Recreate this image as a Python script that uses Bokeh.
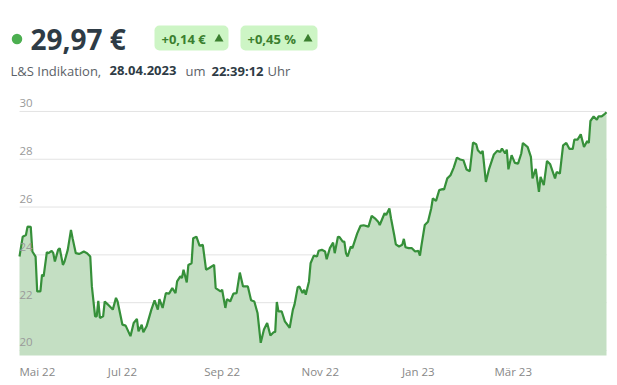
import pandas as pd
from bokeh.plotting import figure
from bokeh.models import ColumnDataSource, Range1d
from bokeh.core.properties import value
from bokeh.embed import file_html
from bokeh.resources import INLINE

# ---------------- data ----------------
dates = [
    "2022-04-28", "2022-04-30", "2022-05-02", "2022-05-03", "2022-05-05", "2022-05-06", "2022-05-08",
    "2022-05-09", "2022-05-11", "2022-05-12", "2022-05-13", "2022-05-15", "2022-05-16", "2022-05-18",
    "2022-05-19", "2022-05-20", "2022-05-22", "2022-05-23", "2022-05-25", "2022-05-26", "2022-05-28",
    "2022-05-30", "2022-05-31", "2022-06-02", "2022-06-04", "2022-06-05", "2022-06-07", "2022-06-09",
    "2022-06-11", "2022-06-12", "2022-06-14", "2022-06-15", "2022-06-16", "2022-06-17", "2022-06-19",
    "2022-06-20", "2022-06-22", "2022-06-25", "2022-06-27", "2022-06-28", "2022-07-01", "2022-07-03",
    "2022-07-06", "2022-07-08", "2022-07-10", "2022-07-11", "2022-07-13", "2022-07-14", "2022-07-16",
    "2022-07-19", "2022-07-21", "2022-07-23", "2022-07-24", "2022-07-26", "2022-07-28", "2022-07-30",
    "2022-08-01", "2022-08-03", "2022-08-04", "2022-08-06", "2022-08-07", "2022-08-08", "2022-08-10",
    "2022-08-11", "2022-08-13", "2022-08-14", "2022-08-16", "2022-08-18", "2022-08-20", "2022-08-22",
    "2022-08-24", "2022-08-27", "2022-08-28", "2022-08-31", "2022-09-01", "2022-09-03", "2022-09-04",
    "2022-09-06", "2022-09-08", "2022-09-10", "2022-09-12", "2022-09-14", "2022-09-17", "2022-09-19",
    "2022-09-21", "2022-09-23", "2022-09-25", "2022-09-27", "2022-09-29", "2022-10-01", "2022-10-03",
    "2022-10-04", "2022-10-05", "2022-10-06", "2022-10-08", "2022-10-10", "2022-10-13", "2022-10-15",
    "2022-10-16", "2022-10-18", "2022-10-19", "2022-10-21", "2022-10-22", "2022-10-23", "2022-10-25",
    "2022-10-26", "2022-10-28", "2022-10-30", "2022-10-31", "2022-11-02", "2022-11-04", "2022-11-05",
    "2022-11-07", "2022-11-09", "2022-11-10", "2022-11-12", "2022-11-13", "2022-11-15", "2022-11-16",
    "2022-11-17", "2022-11-18", "2022-11-20", "2022-11-21", "2022-11-24", "2022-11-26", "2022-11-28",
    "2022-12-01", "2022-12-03", "2022-12-05", "2022-12-07", "2022-12-08", "2022-12-11", "2022-12-12",
    "2022-12-14", "2022-12-15", "2022-12-17", "2022-12-18", "2022-12-20", "2022-12-22", "2022-12-23",
    "2022-12-24", "2022-12-26", "2022-12-28", "2022-12-30", "2023-01-01", "2023-01-02", "2023-01-03",
    "2023-01-05", "2023-01-07", "2023-01-09", "2023-01-10", "2023-01-12", "2023-01-14", "2023-01-16",
    "2023-01-17", "2023-01-19", "2023-01-21", "2023-01-23", "2023-01-25", "2023-01-27", "2023-01-29",
    "2023-01-31", "2023-02-02", "2023-02-04", "2023-02-06", "2023-02-07", "2023-02-09", "2023-02-10",
    "2023-02-12", "2023-02-14", "2023-02-17", "2023-02-19", "2023-02-21", "2023-02-22", "2023-02-24",
    "2023-02-25", "2023-02-26", "2023-02-28", "2023-03-02", "2023-03-04", "2023-03-06", "2023-03-07",
    "2023-03-10", "2023-03-12", "2023-03-13", "2023-03-15", "2023-03-17", "2023-03-18", "2023-03-20",
    "2023-03-22", "2023-03-24", "2023-03-27", "2023-03-28", "2023-03-30", "2023-04-01", "2023-04-03",
    "2023-04-05", "2023-04-07", "2023-04-08", "2023-04-10", "2023-04-12", "2023-04-14", "2023-04-16",
    "2023-04-17", "2023-04-18", "2023-04-20", "2023-04-22", "2023-04-23", "2023-04-25", "2023-04-27",
    "2023-04-28",
]
prices = [
    23.93, 24.76, 24.83, 25.18, 25.17, 24.14, 23.93,
    22.47, 22.47, 23.17, 23.10, 24.11, 24.07, 24.17,
    24.07, 23.72, 24.21, 24.28, 23.58, 23.72, 24.21,
    25.04, 24.70, 24.07, 24.04, 24.07, 24.14, 24.07,
    23.93, 22.68, 21.43, 21.43, 22.08, 21.36, 21.43,
    22.05, 21.92, 21.71, 22.20, 22.05, 21.08, 21.04,
    20.60, 21.15, 21.32, 20.80, 21.08, 20.76, 21.01,
    21.71, 22.10, 21.71, 22.15, 21.78, 22.40, 22.38,
    22.61, 22.40, 22.89, 23.10, 23.03, 23.38, 22.85,
    23.58, 23.65, 24.70, 24.76, 24.38, 24.42, 23.38,
    23.45, 23.58, 22.61, 22.47, 22.54, 21.78, 22.15,
    22.05, 22.38, 22.40, 23.26, 22.68, 22.68, 22.10,
    22.05, 21.57, 20.32, 20.88, 21.15, 20.63, 20.76,
    20.78, 22.03, 21.64, 21.64, 21.22, 20.95, 21.71,
    21.92, 22.65, 22.68, 22.40, 22.54, 22.33, 22.89,
    23.65, 23.97, 23.93, 24.17, 24.21, 24.14, 23.82,
    24.28, 24.51, 24.07, 24.76, 24.74, 24.55, 24.55,
    24.07, 23.93, 24.35, 24.28, 24.90, 25.21, 25.24,
    25.18, 25.63, 25.53, 25.39, 25.25, 25.74, 25.67,
    25.94, 25.53, 24.83, 24.44, 24.35, 24.42, 24.67,
    24.32, 24.28, 24.28, 24.14, 24.17, 23.97, 24.42,
    25.25, 25.39, 25.94, 26.36, 26.26, 26.71, 26.75,
    26.74, 27.20, 27.33, 27.65, 28.07, 27.99, 27.96,
    27.57, 27.50, 28.70, 28.63, 28.38, 28.24, 28.35,
    27.05, 27.60, 28.20, 28.35, 28.31, 28.45, 28.24,
    28.40, 27.58, 28.17, 27.85, 27.82, 28.24, 28.68,
    28.51, 28.10, 27.20, 27.60, 26.64, 27.26, 26.92,
    27.93, 27.79, 27.20, 27.47, 27.40, 28.58, 28.68,
    28.43, 28.43, 28.82, 28.82, 29.04, 28.51, 28.76,
    28.68, 29.60, 29.79, 29.65, 29.79, 29.79, 29.90,
    29.97,
]

y_ticks = [20, 22, 24, 26, 28, 30]
y_tick_labels = ["20", "22", "24", "26", "28", "30"]
x_tick_dates = ["2022-05-01", "2022-07-01", "2022-09-01", "2022-11-01", "2023-01-01", "2023-03-01"]
x_tick_labels = ["Mai 22", "Jul 22", "Sep 22", "Nov 22", "Jan 23", "Mär 23"]

price_text = "29,97 €"
change_abs = "+0,14 €"
change_pct = "+0,45 %"
sub_parts = ["L&S Indikation,", "28.04.2023", "um", "22:39:12", "Uhr"]
sub_bold = [False, True, False, True, False]

FONT = "Open Sans"
DARK = "#2e3b45"
GREY = "#5b6167"
LINE = "#36903a"
FILL = "#c4dfc3"
BADGE_TXT = "#3b7f2f"

# ---------------- layout (pixels of the 617x385 canvas) ----------------
W, H = 617, 385
PL, PR, PT, PB = 19, 606, 95, 355      # plot area edges
y_lo, y_hi = 19.79, 30.667             # values at PB and PT

df = pd.DataFrame(dict(date=pd.to_datetime(dates), price=prices))
df["base"] = y_lo
src = ColumnDataSource(df)
start, end = df.date.iloc[0], df.date.iloc[-1]

ms_per_px = (end - start) / (PR - PL)
u_per_px = (y_hi - y_lo) / (PB - PT)
x_range = Range1d(start - ms_per_px * PL, end + ms_per_px * (W - PR))
y_range = Range1d(y_lo - u_per_px * (H - PB), y_hi + u_per_px * PT)

p = figure(width=W, height=H, x_axis_type="datetime", x_range=x_range, y_range=y_range,
           output_backend="svg", toolbar_location=None, min_border=0,
           x_axis_location=None, y_axis_location=None)
p.grid.visible = False
p.outline_line_color = None
p.background_fill_color = "white"
p.border_fill_color = "white"
p.extra_x_ranges = {"px_x": Range1d(0, W)}
p.extra_y_ranges = {"px_y": Range1d(H, 0)}

# grid lines spanning the data period
grid = ColumnDataSource(dict(x0=[start] * len(y_ticks), x1=[end] * len(y_ticks), y=y_ticks))
p.segment(x0="x0", y0="y", x1="x1", y1="y", source=grid, line_color="#e3e3e3", line_width=1)

p.varea(x="date", y1="base", y2="price", source=src, fill_color=FILL, fill_alpha=1)
p.line(x="date", y="price", source=src, line_color=LINE, line_width=2.2)

ylab = ColumnDataSource(dict(x=[start] * len(y_ticks), y=y_ticks, t=y_tick_labels))
p.text(x="x", y="y", text="t", source=ylab, text_font=value(FONT), text_font_size="11.5px",
       text_color="#9a9a9a", text_baseline="bottom", text_align="left", y_offset=-4)

# x tick labels: centred on month starts, the first one kept inside the plot (left-aligned)
tick_dt = pd.to_datetime(x_tick_dates)
anchor = [start if (t - start).days < 15 else t for t in tick_dt]
align = ["left" if (t - start).days < 15 else "center" for t in tick_dt]
xlab = ColumnDataSource(dict(x=anchor, y=[y_lo] * len(anchor), t=x_tick_labels, a=align))
p.text(x="x", y="y", text="t", source=xlab, text_align="a", text_baseline="top", y_offset=8,
       text_font=value(FONT), text_font_size="11.5px", text_color="#888888")

# ---------------- header (pixel ranges) ----------------
hk = dict(x_range_name="px_x", y_range_name="px_y")
p.scatter(x=[16.5], y=[38.5], size=10.5, marker="circle", fill_color="#4caf50", line_color=None, **hk)
p.text(x=[30], y=[38], text=[price_text], text_font=value(FONT), text_font_style="bold",
       text_font_size="28px", text_color=DARK, text_baseline="middle", text_align="left", **hk)

badges = ColumnDataSource(dict(left=[154, 240], right=[228, 317], top=[25, 25], bottom=[50, 50]))
p.quad(left="left", right="right", top="top", bottom="bottom", source=badges,
       fill_color="#cdf5c5", line_color=None, border_radius=5, **hk)
p.text(x=[161, 247], y=[38, 38], text=[change_abs, change_pct], text_font=value(FONT),
       text_font_style="bold", text_font_size="13px", text_color=BADGE_TXT,
       text_baseline="middle", text_align="left", **hk)
p.scatter(x=[218.5, 307.5], y=[38.5, 38.5], marker="triangle", size=9,
          fill_color=BADGE_TXT, line_color=None, **hk)

sub_x = [10, 109, 185, 211, 267]
for sx, txt, b in zip(sub_x, sub_parts, sub_bold):
    p.text(x=[sx], y=[70], text=[txt], text_font=value(FONT),
           text_font_style="bold" if b else "normal", text_font_size="13px",
           text_color=DARK if b else GREY, text_baseline="middle", text_align="left", **hk)

open("out.html", "w").write(file_html(p, INLINE))
